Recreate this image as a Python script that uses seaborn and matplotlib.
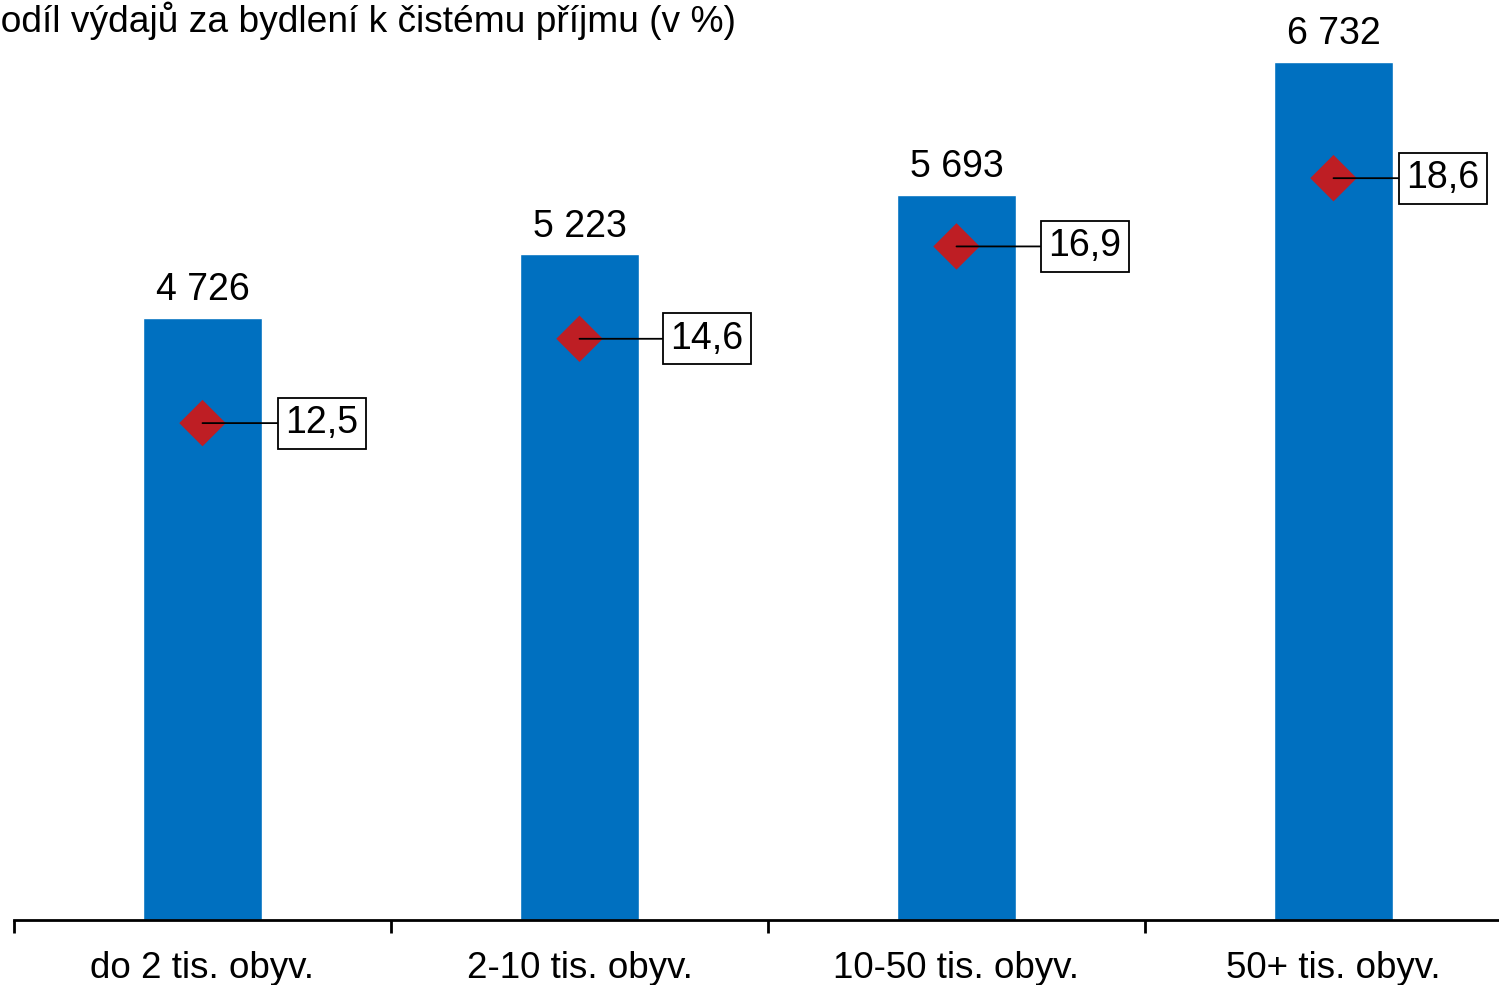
import numpy as np
import pandas as pd
import seaborn as sb
import matplotlib.pyplot as plt

categories = ['do 2 tis. obyv.', '2-10 tis. obyv.', '10-50 tis. obyv.', '50+ tis. obyv.']
expenses = [4726, 5223, 5693, 6732]
share = [12.5, 14.6, 16.9, 18.6]
expense_labels = ['4 726', '5 223', '5 693', '6 732']
share_labels = ['12,5', '14,6', '16,9', '18,6']
title = 'Podíl výdajů za bydlení k čistému příjmu (v %)'

sb.set_style('white')
plt.rcParams['font.family'] = ['Liberation Sans', 'DejaVu Sans']
plt.rcParams['text.color'] = 'black'
plt.rcParams['xtick.color'] = 'black'

df = pd.DataFrame({'cat': categories, 'val': expenses})

fig = plt.figure(figsize=(14.99, 9.85), dpi=100)
ax = fig.add_axes([14 / 1499, 65 / 985, 1508 / 1499, 892 / 985])

sb.barplot(data=df, x='cat', y='val', order=categories, color='#0070C0',
           saturation=1, width=0.316, ax=ax)
ax.set_ylim(0, 7000)
ax.set_xlim(-0.5, 3.5)
ax.bar_label(ax.containers[0], labels=expense_labels, padding=7, fontsize=27, color='black')

for s in ['top', 'right', 'left']:
    ax.spines[s].set_visible(False)
ax.spines['bottom'].set_color('black')
ax.spines['bottom'].set_linewidth(2)
ax.set_yticks([])
ax.set_xlabel('')
ax.set_ylabel('')
ax.tick_params(axis='x', which='major', length=0, pad=22, labelsize=26.5, labelcolor='black')
ax.set_xticks(np.arange(-0.5, 4, 1), minor=True)
ax.tick_params(axis='x', which='minor', bottom=True, length=9, width=2, color='black',
               direction='out')

# second axis for the percentage
ax2 = ax.twinx()
x = np.arange(len(categories))
sb.scatterplot(x=x, y=share, marker='D', s=560, color='#BE1E24', edgecolor='none',
               ax=ax2, zorder=5)
ax2.set_ylim(0.125, 22.34)
ax2.set_yticks([])
for s in ax2.spines.values():
    s.set_visible(False)

# label box offsets (points) from the marker
offsets = [59.8, 65.5, 66.2, 52.6]
for xi, v, lab, off in zip(x, share, share_labels, offsets):
    ax2.annotate(lab, xy=(xi, v), xytext=(off, 0), textcoords='offset points',
                 ha='left', va='center', fontsize=27,
                 bbox=dict(boxstyle='square,pad=0.2', fc='white', ec='black', lw=1.3),
                 arrowprops=dict(arrowstyle='-', color='black', lw=1.3,
                                 shrinkA=0, shrinkB=0),
                 annotation_clip=False, zorder=6)

fig.text(-24 / 1499, 1 - 32 / 985, title, fontsize=26.7, ha='left', va='baseline')

plt.savefig('out.png', dpi=100)
